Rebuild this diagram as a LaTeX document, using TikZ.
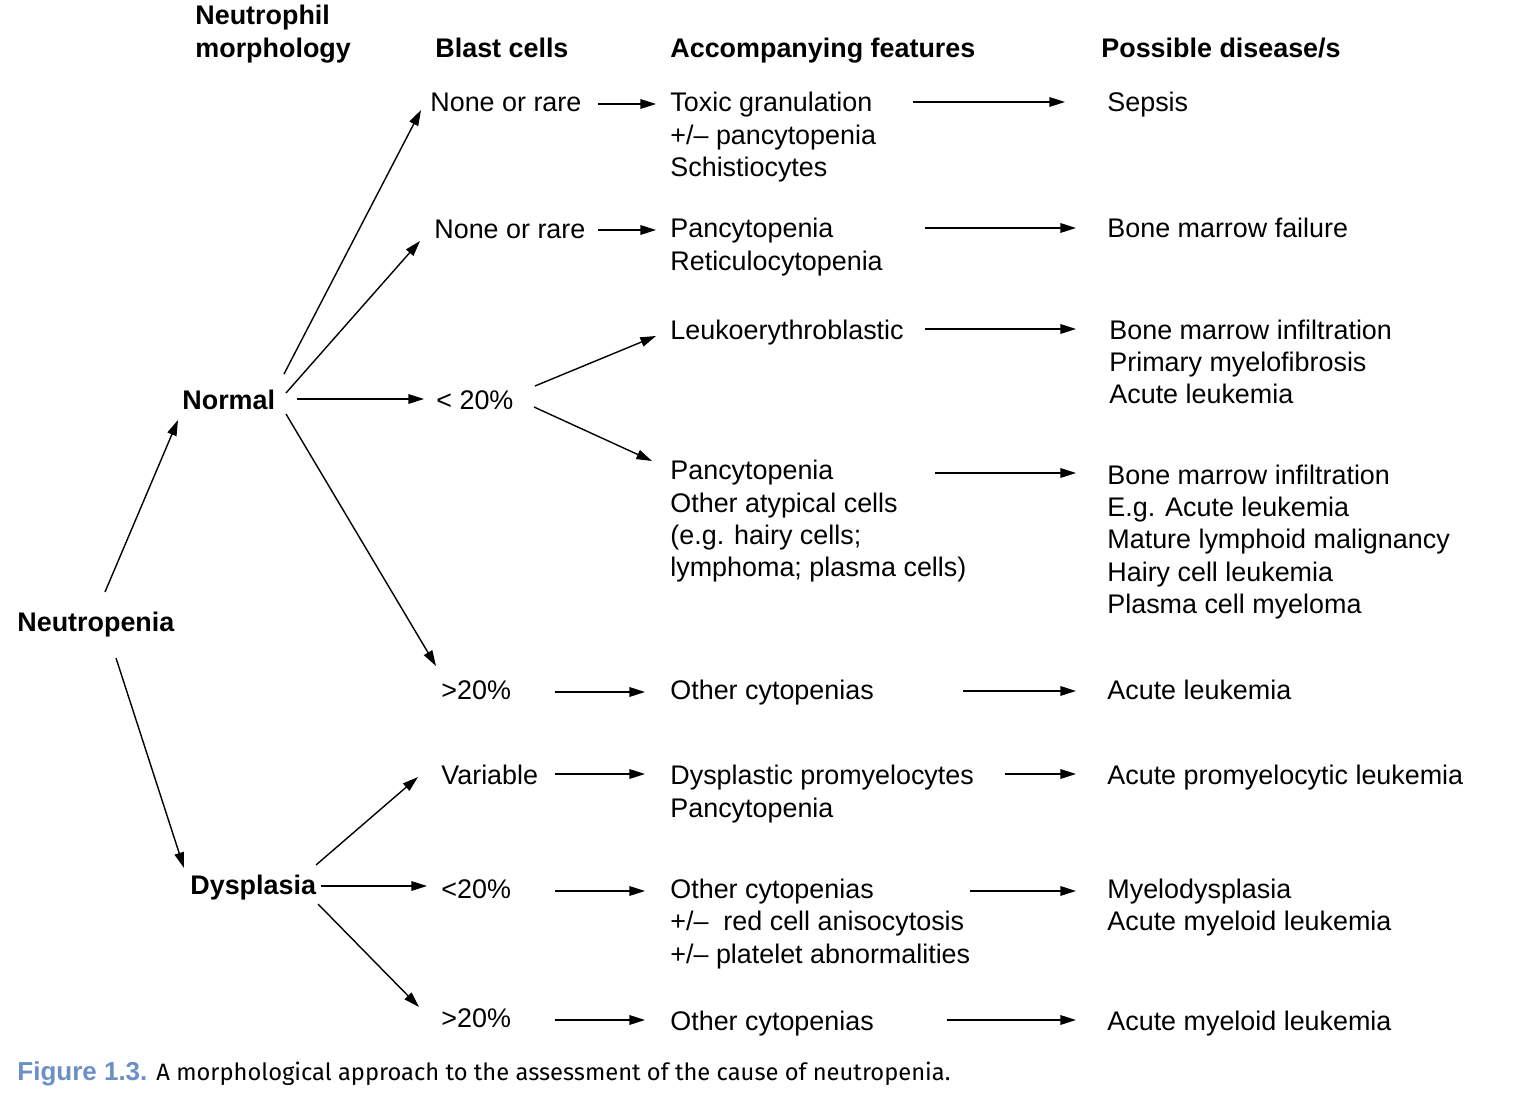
\documentclass[tikz,border=0pt]{standalone}
\usepackage{fontspec}
\setmainfont{Liberation Sans}
\newfontfamily\capfont{Fira Sans}
\usetikzlibrary{arrows.meta}
\definecolor{capblue}{HTML}{6A90C6}
\tikzset{
  t/.style={anchor=west, inner sep=0pt, text height=9.6pt, text depth=0pt, font=\fontsize{13.45}{16}\selectfont},
  h/.style={t, font=\fontsize{13.45}{16}\selectfont\bfseries},
  arr/.style={-{Triangle[length=7.8pt,width=4.8pt]}, line width=0.7pt}
}
\newcommand\arrowlink[4]{\draw[arr] ([shift={#2}]#1.west) -- ([shift={#4}]#3.west);}
\begin{document}
\begin{tikzpicture}[x=0.5pt,y=-0.5pt]
\useasboundingbox (0,0) rectangle (1522,1096);
% headers
\node[h] (hn1) at (195,15) {Neutrophil};
\node[h] (hn2) at (195,48) {morphology};
\node[h] (hb) at (435,48) {Blast cells};
\node[h] (ha) at (670,48) {Accompanying features};
\node[h] (hd) at (1101,48) {Possible disease/s};
% left
\node[h] (neu) at (17,622) {Neutropenia};
\node[h] (nor) at (182,400) {Normal};
\node[h] (dys) at (190,885) {Dysplasia};
% blast cells
\node[t] (b1) at (430,102) {None or rare};
\node[t] (b2) at (434,229) {None or rare};
\node[t] (b3) at (436,400) {< 20\%};
\node[t] (b4) at (441,690) {>20\%};
\node[t] (b5) at (441,775) {Variable};
\node[t] (b6) at (441,889) {<20\%};
\node[t] (b7) at (441,1018) {>20\%};
% features
\node[t] (f1) at (670,102) {Toxic granulation};
\node[t] (f1b) at (670,135) {+/– pancytopenia};
\node[t] (f1c) at (670,167) {Schistiocytes};
\node[t] (f2) at (670,228) {Pancytopenia};
\node[t] (f2b) at (670,261) {Reticulocytopenia};
\node[t] (f3) at (670,330) {Leukoerythroblastic};
\node[t] (f4) at (670,470) {Pancytopenia};
\node[t] (f4b) at (670,503) {Other atypical cells};
\node[t] (f4c) at (670,535) {(e.g. hairy cells;};
\node[t] (f4d) at (670,567) {lymphoma; plasma cells)};
\node[t] (f5) at (670,690) {Other cytopenias};
\node[t] (f6) at (670,775) {Dysplastic promyelocytes};
\node[t] (f6b) at (670,808) {Pancytopenia};
\node[t] (f7) at (670,889) {Other cytopenias};
\node[t] (f7b) at (670,921) {+/–\ \ red cell anisocytosis};
\node[t] (f7c) at (670,954) {+/– platelet abnormalities};
\node[t] (f8) at (670,1021) {Other cytopenias};
% diseases
\node[t] (d1) at (1107,102) {Sepsis};
\node[t] (d2) at (1107,228) {Bone marrow failure};
\node[t] (d3) at (1109,330) {Bone marrow infiltration};
\node[t] (d3b) at (1109,362) {Primary myelofibrosis};
\node[t] (d3c) at (1109,394) {Acute leukemia};
\node[t] (d4) at (1107,475) {Bone marrow infiltration};
\node[t] (d4b) at (1107,507) {E.g. Acute leukemia};
\node[t] (d4c) at (1107,539) {Mature lymphoid malignancy};
\node[t] (d4d) at (1107,572) {Hairy cell leukemia};
\node[t] (d4e) at (1107,604) {Plasma cell myeloma};
\node[t] (d5) at (1107,690) {Acute leukemia};
\node[t] (d6) at (1107,775) {Acute promyelocytic leukemia};
\node[t] (d7) at (1107,889) {Myelodysplasia};
\node[t] (d7b) at (1107,921) {Acute myeloid leukemia};
\node[t] (d8) at (1107,1021) {Acute myeloid leukemia};
% caption
\node[anchor=base west, inner sep=0pt, text=capblue, font=\fontsize{13}{14}\selectfont\bfseries] (fig) at (17,1080) {Figure 1.3.};
\node[anchor=base west, inner sep=0pt, font=\capfont\fontsize{12}{14}\selectfont] (cap) at (156,1080)
  {\resizebox{397pt}{!}{A morphological approach to the assessment of the cause of neutropenia.}};
% arrows
\arrowlink{neu}{(88,-30)}{nor}{(-4,20)}
\arrowlink{neu}{(99,36)}{dys}{(-6,-17)}
\arrowlink{nor}{(102,-26)}{b1}{(-9,8)}
\arrowlink{nor}{(104,-7)}{b2}{(-14,12)}
\arrowlink{nor}{(115,-1)}{b3}{(-12,-1)}
\arrowlink{nor}{(104,14)}{b4}{(-5,-24)}
\arrowlink{b3}{(99,-14)}{f3}{(-14,6)}
\arrowlink{b3}{(98,7)}{f4}{(-18,-9)}
\arrowlink{b1}{(168,2)}{f1}{(-14,2)}
\arrowlink{b2}{(164,1)}{f2}{(-14,2)}
\arrowlink{b4}{(114,2)}{f5}{(-25,2)}
\arrowlink{b5}{(114,-1)}{f6}{(-25,-1)}
\arrowlink{b6}{(114,2)}{f7}{(-25,2)}
\arrowlink{b7}{(114,2)}{f8}{(-25,-1)}
\arrowlink{dys}{(126,-20)}{b5}{(-23,2)}
\arrowlink{dys}{(131,1)}{b6}{(-14,-3)}
\arrowlink{dys}{(128,19)}{b7}{(-22,-11)}
\arrowlink{f1}{(243,0)}{d1}{(-42,0)}
\arrowlink{f2}{(255,0)}{d2}{(-31,0)}
\arrowlink{f3}{(255,-1)}{d3}{(-33,-1)}
\arrowlink{f4}{(265,3)}{d4}{(-31,-2)}
\arrowlink{f5}{(293,1)}{d5}{(-31,1)}
\arrowlink{f6}{(335,-1)}{d6}{(-31,-1)}
\arrowlink{f7}{(300,2)}{d7}{(-31,2)}
\arrowlink{f8}{(277,-1)}{d8}{(-31,-1)}
\end{tikzpicture}
\end{document}
